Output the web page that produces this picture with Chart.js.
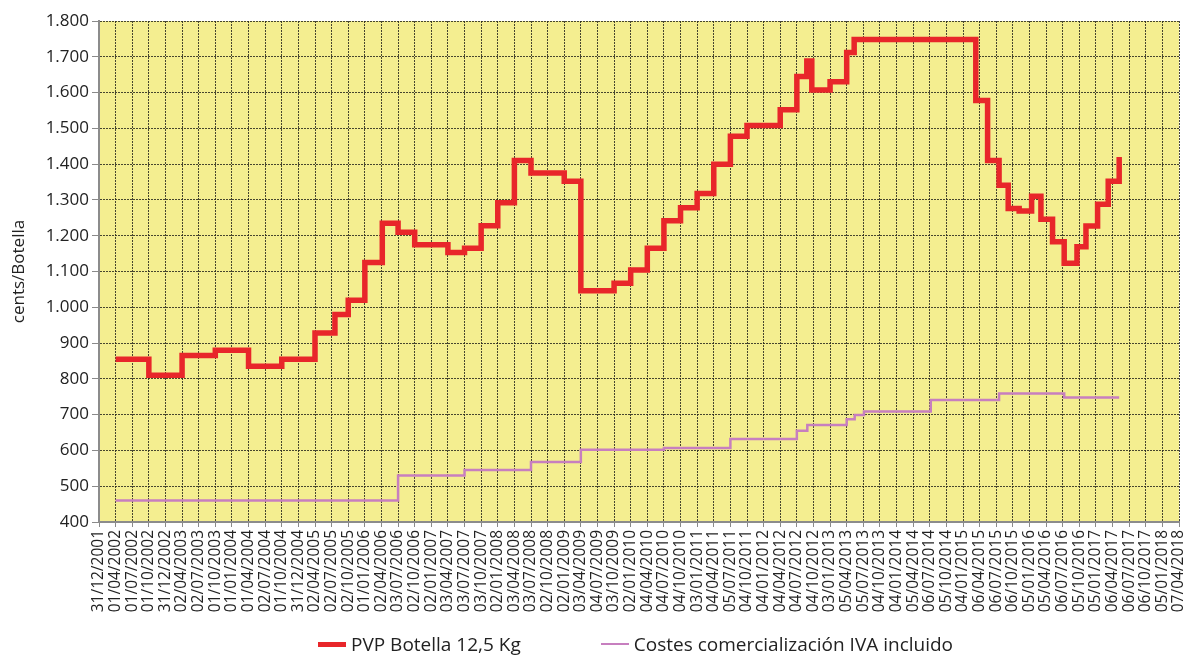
<!DOCTYPE html>
<html>
<head>
<meta charset="utf-8">
<script src="https://cdn.jsdelivr.net/npm/chart.js@4.4.1/dist/chart.umd.min.js"></script>
<style>
  body { margin: 0; background: #fff; }
  #wrap { position: relative; width: 1184px; height: 656px; }
  #legend {
    position: absolute; left: 318px; top: 631px;
    display: flex; align-items: center;
    font: 19px "Open Sans", sans-serif; color: #222; white-space: nowrap;
  }
  .item { display: flex; align-items: center; }
  .swatch { display: inline-block; width: 28px; margin-right: 5px; }
</style>
</head>
<body>
<div id="wrap">
  <canvas id="chart" width="1184" height="656"></canvas>
  <div id="legend">
    <span class="item" style="margin-right:80px"><span class="swatch" style="height:5px;background:#e8262a"></span>PVP Botella 12,5 Kg</span>
    <span class="item"><span class="swatch" style="height:2px;background:#c77fbf"></span>Costes comercialización IVA incluido</span>
  </div>
</div>
<script>
// x axis categories (quarterly dates)
const dateLabels = [
  '31/12/2001', '01/04/2002', '01/07/2002', '01/10/2002', '31/12/2002', '02/04/2003',
  '02/07/2003', '01/10/2003', '01/01/2004', '01/04/2004', '02/07/2004', '01/10/2004',
  '31/12/2004', '02/04/2005', '02/07/2005', '02/10/2005', '01/01/2006', '02/04/2006',
  '03/07/2006', '02/10/2006', '02/01/2007', '03/04/2007', '03/07/2007', '03/10/2007',
  '02/01/2008', '03/04/2008', '03/07/2008', '02/10/2008', '02/01/2009', '03/04/2009',
  '04/07/2009', '03/10/2009', '02/01/2010', '04/04/2010', '04/07/2010', '04/10/2010',
  '03/01/2011', '04/04/2011', '05/07/2011', '04/10/2011', '04/01/2012', '04/04/2012',
  '04/07/2012', '04/10/2012', '03/01/2013', '05/04/2013', '05/07/2013', '04/10/2013',
  '04/01/2014', '05/04/2014', '06/07/2014', '05/10/2014', '04/01/2015', '06/04/2015',
  '06/07/2015', '06/10/2015', '05/01/2016', '05/04/2016', '06/07/2016', '05/10/2016',
  '05/01/2017', '06/04/2017', '06/07/2017', '06/10/2017', '05/01/2018', '07/04/2018'
];

// PVP Botella 12,5 Kg: position (in quarters from 31/12/2001) where each price starts
const priceStart = [
  1, 3, 5, 7, 9, 11, 13, 14.2, 15, 16, 17.05, 18, 19, 21, 22, 23, 24, 25, 26, 28,
  29, 31, 32, 33, 34, 35, 36, 37, 38, 39, 41, 42, 42.6, 42.9, 44, 45, 45.45,
  52.77, 53.48, 54.17, 54.72, 55.38, 56.13, 56.69, 57.39, 58.09, 58.86, 59.4,
  60.1, 60.74, 61.4
];
const priceValue = [
  855, 810, 865, 880, 835, 855, 928, 980, 1020, 1125, 1235, 1210, 1175, 1153, 1165,
  1228, 1292, 1410, 1375, 1352, 1046, 1067, 1104, 1165, 1242, 1278, 1318, 1400,
  1478, 1508, 1552, 1645, 1688, 1607, 1630, 1712, 1748, 1578, 1410, 1341, 1276,
  1269, 1310, 1246, 1183, 1123, 1169, 1227, 1288, 1352, 1420
];

// Costes comercialización IVA incluido
const costStart = [1, 18, 22, 26, 29, 34, 38, 42, 42.63, 45, 45.48, 46.04, 50.06, 54.17, 58.09, 61.4];
const costValue = [460, 530, 545, 568, 602, 607, 632, 655, 671, 687, 699, 709, 741, 759, 748, 748];

const Y_MIN = 400, Y_MAX = 1800, Y_STEP = 100;

function fmtThousands(v) {
  if (v < 1000) return String(v);
  const th = Math.floor(v / 1000);
  const rest = String(v % 1000).padStart(3, '0');
  return th + '.' + rest;
}

// yellow plot background
const plotBg = {
  id: 'plotBg',
  beforeDraw(chart) {
    const { ctx, chartArea: a } = chart;
    ctx.save();
    ctx.fillStyle = '#f4ee90';
    ctx.fillRect(a.left, a.top, a.right - a.left, a.bottom - a.top);
    ctx.restore();
  }
};

const gridCommon = {
  color: 'rgba(40,40,30,0.85)',
  lineWidth: 1,
  tickColor: '#8a8a8a',
  tickBorderDash: [],
  tickWidth: 1
};

new Chart(document.getElementById('chart'), {
  type: 'line',
  data: {
    datasets: [
      {
        label: 'PVP Botella 12,5 Kg',
        data: priceStart.map((x, i) => ({ x, y: priceValue[i] })),
        borderColor: '#e8262a',
        borderWidth: 5.5,
        stepped: 'before',
        pointRadius: 0,
        fill: false
      },
      {
        label: 'Costes comercialización IVA incluido',
        data: costStart.map((x, i) => ({ x, y: costValue[i] })),
        borderColor: '#c77fbf',
        borderWidth: 2.5,
        stepped: 'before',
        pointRadius: 0,
        fill: false
      }
    ]
  },
  options: {
    responsive: false,
    animation: false,
    layout: { padding: { top: 21, right: 5, left: 0, bottom: 0 } },
    plugins: {
      legend: { display: false },
      tooltip: { enabled: false }
    },
    scales: {
      x: {
        type: 'linear',
        min: 0,
        max: dateLabels.length - 1,
        afterFit: s => { s.height = 134; s.paddingLeft = 0; s.paddingRight = 0; },
        ticks: {
          stepSize: 1,
          autoSkip: false,
          minRotation: 90,
          maxRotation: 90,
          padding: 3,
          color: '#222',
          font: { family: 'Open Sans', size: 15.5 },
          callback: v => dateLabels[Math.round(v)]
        },
        grid: { ...gridCommon, tickLength: 5 },
        border: { color: '#8c8c8c', width: 2, dash: [2, 1] }
      },
      y: {
        min: Y_MIN,
        max: Y_MAX,
        afterFit: s => { s.width = 99; },
        ticks: {
          stepSize: Y_STEP,
          padding: 3,
          color: '#222',
          font: { family: 'Open Sans', size: 17 },
          callback: v => fmtThousands(v)
        },
        title: {
          display: true,
          text: 'cents/Botella',
          color: '#222',
          font: { family: 'Open Sans', size: 17 },
          padding: { top: 9 }
        },
        grid: { ...gridCommon, tickLength: 7 },
        border: { color: '#8c8c8c', width: 2, dash: [2, 1] }
      }
    }
  },
  plugins: [plotBg]
});
</script>
</body>
</html>
